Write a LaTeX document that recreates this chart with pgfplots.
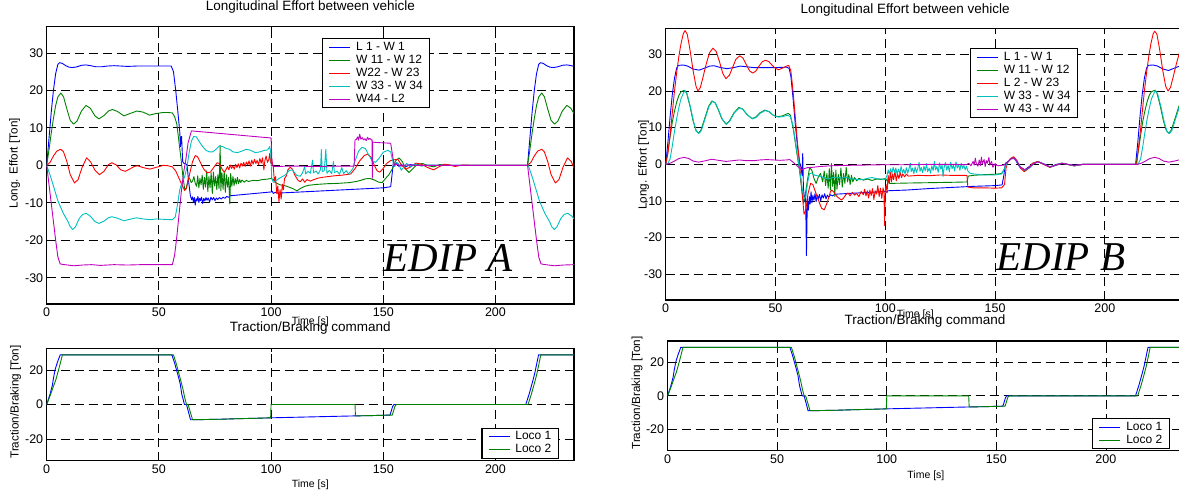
\documentclass[border=0pt]{standalone}
\usepackage{pgfplots}
\usepackage{pgfplotstable}
\pgfplotsset{compat=1.18}
\usepackage{fontspec}
\setmainfont{Liberation Sans}
\newfontfamily\edipfont{Liberation Serif}

\definecolor{mblue}{rgb}{0,0,1}
\definecolor{mgreen}{rgb}{0,0.5,0}
\definecolor{mred}{rgb}{1,0,0}
\definecolor{mcyan}{rgb}{0,0.75,0.75}
\definecolor{mmag}{rgb}{0.75,0,0.75}

% Traction / braking command of the two locomotives (time [s], effort [Ton])
\pgfplotstableread{
t v
0 0
1.5 6
2.5 11
3 15
3.7 20
4.8 24.5
6 28.7
55.8 28.7
57 24
58.5 17
59.5 12
60.2 6
61.4 0
62.3 0
64.1 -8.8
70 -8.7
78 -8.5
85 -8.2
92 -8.0
100 -7.7
110 -7.4
120 -7.1
130 -6.8
137 -6.6
145 -6.4
153 -6.1
153.5 -4
154.2 -1
154.8 0
213.5 0
215 6
216.5 13
217.5 18
219.2 28.7
235 28.7
}\locoone

\pgfplotstableread{
t v
0 0
1.5 5
3 10.5
4 14
5.5 21
7 28.7
56.5 28.7
58 22.5
59.5 15
60.7 9
61.5 4
62.3 0
63 0
65 -8.8
70 -8.7
78 -8.5
85 -8.2
92 -8.0
99.8 -7.7
100 0
137.4 0
137.6 -6.6
145 -6.4
154 -6.1
154.5 -4
155.2 -1
155.8 0
214.5 0
216 6
217.5 13
218.5 18
220.2 28.7
235 28.7
}\locotwo

% line-only legend samples, 21bp long
\pgfplotsset{
  legend image code/.code={\draw[#1, line width=1.1bp] (0bp,0bp) -- (21bp,0bp);},
  ser/.style={line width=0.9bp, no marks, line join=round, draw=#1, color=#1},
}
\pgfplotsset{
  mat/.style={
    scale only axis,
    anchor=north west,
    xmin=0, xmax=235,
    xtick={0,50,100,150,200},
    axis line style={line width=1.1bp},
    grid=major,
    major grid style={black, line width=0.8bp, dash pattern=on 9bp off 5bp},
    tick align=inside,
    major tick length=4bp,
    tick style={black, line width=0.8bp},
    tick label style={font=\fontsize{12.5bp}{14bp}\selectfont},
    xticklabel style={yshift=-0.5bp},
    /pgf/number format/assume math mode=true,
    xlabel style={font=\fontsize{10.5bp}{12bp}\selectfont, anchor=center},
    ylabel style={font=\fontsize{11.7bp}{13bp}\selectfont, anchor=center},
    title style={font=\fontsize{13.5bp}{15bp}\selectfont, anchor=center},
    legend cell align=left,
    legend style={anchor=north west, line width=1.1bp, fill=white,
      inner xsep=6bp, inner ysep=2bp, row sep=0pt,
      font=\fontsize{12bp}{13bp}\selectfont,
      nodes={inner sep=1bp, text height=8.6bp, text depth=2.4bp},
      /tikz/every odd column/.append style={column sep=4.3bp}},
  },
  cmdaxis/.style={
    ymin=-32.5, ymax=32.5, ytick={-20,0,20},
    extra y ticks={0}, extra y tick labels={},
    extra y tick style={major tick length=0pt,
      grid style={black!55, line width=1.4bp, dash pattern=on 9bp off 5bp}},
  },
}

\begin{document}
\begin{tikzpicture}

% ---------------- EDIP A : coupler forces ----------------
\begin{axis}[mat,
  at={(46.7bp,-26.7bp)}, width=527.3bp, height=277.3bp,
  ymin=-37, ymax=37, ytick={-30,-20,-10,0,10,20,30},
  title={Longitudinal Effort between vehicle},
  title style={at={(0.5,1.048)}},
  xlabel={Time [s]}, xlabel style={at={(0.5,-0.0645)}},
  ylabel={Long. Effort [Ton]}, ylabel style={at={(-0.061,0.508)}},
  legend style={at={(0.5225,0.958)}},
]
\addplot[ser=mblue] coordinates {
(0,0) (1,7) (2,14) (3,20) (4,24.5) (5,27) (5.8,27.4) (7,27.2) (8.5,26.6) (10,26.2)
(11.5,26.1) (13.5,26.3) (15.5,26.7) (17.5,26.8) (19.5,26.6) (22,26.3) (24.5,26.3)
(27,26.5) (30,26.6) (33,26.5) (36,26.4) (40,26.5) (45,26.5) (50,26.5) (55.5,26.5)
(56.5,25) (57.5,20) (58.5,14) (59.3,9) (59.6,5) (59.8,7.5) (60.1,7.7) (60.3,5)
(60.6,1) (61.2,0.5) (62,0.4) (62.6,0) (63.2,-4) (64,-8) (64.6,-9.2) (65,-8.4)
(65.4,-9.8) (65.8,-8.6) (66.2,-10.6) (66.6,-8.9) (67,-9.5) (67.4,-8.3) (67.8,-9.9)
(68.2,-8.8) (68.6,-9.4) (69,-8.5) (69.5,-10.2) (70,-8.8) (70.5,-9.5) (71,-8.6)
(71.5,-9.3) (72,-8.7) (72.6,-9.8) (73.2,-8.5) (73.8,-9.2) (74.4,-8.6) (75,-9.4)
(75.6,-8.7) (76.2,-9.1) (77,-8.6) (77.8,-9.0) (78.6,-8.5) (79.4,-8.8) (80.2,-8.3)
(81,-8.5) (82,-8.1) (100,-7.1) (100.5,-6.9) (101,-7.5) (102,-7.2) (103,-7.4)
(110,-7.2) (120,-6.9) (130,-6.6) (140,-6.3) (150,-6.0) (153.3,-5.7) (154,-2)
(154.5,0.8) (155,0.3) (156,0.6) (157,-0.3) (158,0.2) (160,-0.4) (162,0.2) (165,0)
(214.3,0) (215.3,7) (216.3,14) (217.3,20) (218.3,24.5) (219.3,27) (220.1,27.4)
(221.3,27.2) (222.8,26.6) (224.3,26.2) (225.8,26.1) (227.8,26.3) (229.8,26.7)
(231.8,26.8) (233.8,26.6) (235,26.4)
};
\addlegendentry{L 1 - W 1}
\addplot[ser=mgreen] coordinates {
(0,0) (1,4) (2,8.5) (3,12.5) (4,16) (5,18.3) (6.3,19.3) (7.5,18.3) (9,15) (10.5,12)
(12,11) (13.5,11.8) (15.5,14.5) (17.5,16) (19.5,15.2) (21.5,13.2) (23.3,12.4)
(25.5,13.3) (27.5,14.5) (29.3,14.9) (31.5,14.4) (34.4,13.2) (37,13.8) (40.2,14.5)
(43,14.2) (45.8,13.4) (48.5,13.8) (51.8,14.1) (54,14.1) (56,14) (57,13) (58,11)
(59,6) (60,1) (60.7,-3) (61.5,-6.3) (62,-6.5) (62.6,-5) (63.2,-3.2) (63.8,-3.6)
(64.4,-4.6) (65,-4.2) (65.6,-3) (66.2,-4.8) (66.8,-5.6) (67.3,-2.8) (67.8,-6)
(68.3,-3.5) (68.8,-5.2) (69.3,-2.6) (69.8,-6.4) (70.3,-3.2) (70.8,-5.8) (71.3,-1.5)
(71.8,-7) (72.3,-3) (72.8,-6) (73.3,-2) (73.8,-7.5) (74.3,-1.8) (74.8,-5.5) (75.3,-3)
(75.8,-6.5) (76.3,-2.5) (76.8,-6.2) (77.3,5.3) (77.6,-6.8) (78.1,-2) (78.6,-6.4)
(79.1,-1.5) (79.6,-7.2) (80.1,-2.5) (80.6,-5.8) (81.1,-3.2) (81.6,-10.3) (82,-2.2)
(82.5,-5.6) (83,-3) (83.5,-5.4) (84,-3.5) (84.5,-5) (85,-3.2) (85.5,-4.9) (86,-3.8)
(86.5,-4.6) (87,-3.9) (88,-4.5) (89,-4.0) (90,-4.3) (92,-4.0) (94,-4.1) (96,-3.8)
(98,-3.7) (100,-3.5) (101,-3.8) (102,-4.6) (104,-5.2) (106,-5.4) (108,-5.8)
(110,-6.3) (111.5,-6.8) (113,-6.2) (115,-5.6) (117,-5.3) (120,-5.1) (125,-4.9)
(130,-4.8) (135,-4.6) (138,-4.3) (140,-4.0) (142,-3.6) (144,-3.5) (146,-3.9)
(148,-4.5) (149.5,-4.6) (151,-3.5) (152.5,-2.5) (154,-1) (155.5,1.2) (157,2.0)
(158.5,1.0) (160,-1.0) (161.5,-1.9) (163,-1.0) (165,0.2) (167.5,0.5) (170,-0.1)
(172.5,-0.4) (175,0.2) (178,0.1) (182,-0.1) (186,0) (214.3,0) (215.3,4) (216.3,8.5)
(217.3,12.5) (218.3,16) (219.3,18.3) (220.6,19.3) (221.8,18.3) (223.3,15)
(224.8,12) (226.3,11) (227.8,11.8) (229.8,14.5) (231.8,16) (233.5,15.3) (235,13.8)
};
\addlegendentry{W 11 - W 12}
\addplot[ser=mred] coordinates {
(0,0) (1.5,0.8) (3,2.5) (4.5,3.8) (6.3,4.3) (7.5,3.6) (9,1) (10.5,-2.5) (12.4,-4.7)
(14,-3.8) (15.8,-0.5) (17.8,2.0) (19.5,1.0) (21.5,-1.3) (23.5,-2.5) (25.5,-1.6)
(27.5,0.2) (29,0.7) (31,0.1) (33,-1.2) (35,-1.6) (37,-1.0) (39,-0.3) (40.5,-0.1)
(43,-0.6) (46,-1.0) (49,-0.5) (52,0) (54,-0.1) (56,-0.4) (57.5,-1.5) (59,-3.5)
(60.5,-5.5) (61.5,-6.7) (62.3,-6.0) (63,-4.2) (64,-1.5) (65,1.0) (66.2,2.6)
(67.2,2.3) (68.5,0.8) (70,-1.0) (71.5,-2.0) (73,-1.8) (74.5,-0.5) (76,0.7) (77,0.5)
(78.3,-1.2) (79.3,-1.8) (80,-1.0) (80.6,-0.3) (81.2,-1.2) (81.8,0.1) (82.4,-0.8)
(83,-0.2) (83.6,-1.0) (84.2,0.3) (84.8,-0.6) (85.4,0.4) (86,-0.7) (86.6,0.6)
(87.2,-0.2) (87.8,0.8) (88.4,-0.3) (89,0.9) (89.6,0.1) (90.2,1.2) (90.8,-0.2)
(91.4,1.4) (92,0.3) (92.6,1.6) (93.2,0.5) (93.8,1.3) (94.4,0.2) (95,1.8) (95.6,0.6)
(96.2,2.0) (96.8,-1.2) (97.2,1.2) (97.8,2.5) (98.4,0.8) (99,1.6) (99.4,3.2)
(99.8,0.6) (100.2,2.0) (100.6,0.5) (101,-0.5) (101.5,-4.5) (102,-3) (102.5,-7.5)
(103,-5.5) (103.5,-9.7) (104,-6.5) (104.5,-9.0) (105,-5) (105.5,-6.5) (106,-3.5)
(106.8,-2.8) (107.5,-1.2) (108.5,-0.5) (109.5,-1.0) (110.5,-2.5) (112,-4.0)
(113,-4.4) (114,-3.6) (115,-4.5) (116,-3.8) (117.5,-4.2) (119,-3.8) (121,-3.4)
(124,-3.1) (128,-2.8) (132,-2.6) (135.5,-2.3) (137.5,-0.8) (139.5,1.2) (141.5,2.6)
(143,3.0) (144.5,2.2) (146,0) (147.3,-1.5) (148.5,-1.8) (150,-0.8) (151.5,0.5)
(153.3,1.3) (155,1.5) (156.5,1.6) (158,0.2) (160,-1.0) (162,-0.5) (164.5,0.6)
(167,0.3) (169.5,-0.5) (172.4,-1.2) (174.5,-0.5) (177,0.3) (179,0.2) (182,-0.3)
(185,0.1) (190,0) (214.3,0) (215.8,0.8) (217.3,2.5) (218.8,3.8) (220.6,4.3)
(221.8,3.6) (223.3,1) (224.8,-2.5) (226.7,-4.7) (228.3,-3.8) (230.1,-0.5)
(232.1,2.0) (233.8,1.0) (235,-0.8)
};
\addlegendentry{W22 - W 23}
\addplot[ser=mcyan] coordinates {
(0,0) (2,-3.5) (4,-7.5) (5,-9.5) (7.4,-12.8) (9.5,-15) (10.5,-16.4) (11.6,-17.1)
(12.8,-16.4) (14.5,-14.2) (16,-13.1) (17.6,-12.8) (19.5,-13.6) (21.5,-15)
(23.3,-15.5) (25.5,-14.9) (27.5,-14.0) (29,-13.7) (31.5,-14.1) (34.4,-14.8)
(37,-14.4) (40,-14.0) (43,-14.3) (46,-14.5) (49,-14.3) (52,-14.4) (56,-14.5)
(57.3,-13.8) (58.3,-10.5) (59.3,-6.5) (60.3,-4.5) (61.5,-3.0) (62.5,-0.5) (63.5,3.5)
(64.5,6.5) (65.5,7.7) (66.7,7.6) (68,6.3) (69.5,5.0) (71,4.0) (72.5,3.6) (74,3.6)
(75.5,4.3) (77,5.2) (78.5,5.0) (80,4.5) (81.5,4.3) (83,3.6) (85,3.4) (87,3.8)
(89,4.3) (91,4.0) (93,3.4) (95,3.6) (97,4.0) (98.5,4.1) (99.3,5.0) (99.8,3.9)
(100.3,-3.5) (101,-4.5) (102,-4.2) (103.5,-3.5) (105,-3) (106.5,-2.5) (108,-1.4)
(109.5,-1.2) (111.5,-2.7) (113,-2.9) (114,-2.0) (115,-0.3) (115.4,-2.3) (116.5,-1.6)
(117.5,-2.1) (118.5,1.4) (118.9,-2) (120,-1.5) (121,-2.3) (122,-1.2) (122.4,4.2)
(122.8,-1.7) (123.7,-1.4) (124.4,4.3) (124.9,-2.1) (126,-1.3) (127,-2.2) (127.8,1.0)
(128.2,-1.9) (129.5,-1.6) (130.5,-2.4) (131.5,-0.6) (132.3,-2.2) (133.5,-1.4)
(134.5,-2.3) (135.5,-1.6) (136.5,-0.8) (137.5,1.3) (139,3.8) (140.5,4.8) (142,4.5)
(143.5,2.8) (145,1.2) (146.5,0.8) (148,1.8) (150,3.5) (152,4.0) (153.3,3.6)
(154.2,1.2) (155,-0.3) (156,0.8) (157,0.2) (158,-1.3) (159,-0.6) (160.5,0.5)
(162,-0.4) (164,0.3) (167,-0.2) (170,0.1) (175,0) (214.6,0) (216.6,-3.5)
(218.6,-7.5) (219.6,-9.5) (222,-12.8) (224.1,-15) (225.1,-16.4) (226.2,-17.1)
(227.4,-16.4) (229.1,-14.2) (230.6,-13.1) (232.2,-12.8) (234.1,-13.6) (235,-14.3)
};
\addlegendentry{W 33 - W 34}
\addplot[ser=mmag] coordinates {
(0,0) (1,-5) (2,-10) (3,-15) (4,-20) (5,-24.5) (6,-26.3) (8,-26.5) (12,-26.8)
(16,-26.6) (20,-26.5) (24,-26.7) (30,-26.5) (36,-26.6) (42,-26.5) (48,-26.5)
(56,-26.5) (57,-24) (58,-19) (59,-13) (60,-7) (61,-2) (62,1.5) (63,6) (64.5,9.2)
(100,7.3) (100.4,0.2) (101,-0.3) (110,-0.2) (120,-0.3) (130,-0.2) (137,-0.2)
(137.4,6.8) (138,6.9) (138.6,7.6) (139,6.7) (139.5,8.3) (140,7.0) (140.6,7.4)
(141.2,6.8) (141.8,7.1) (142.4,6.6) (143,7.5) (143.5,6.9) (144,7.2) (144.7,6.8)
(145,6.8) (145.1,-3.5) (145.3,6.2) (147,6.1) (150,6.0) (153.3,5.9) (154.3,2)
(155,0) (156,0.3) (158,-0.2) (160,0.1) (165,0) (214.3,0) (215.3,-5) (216.3,-10)
(217.3,-15) (218.3,-20) (219.3,-24.5) (220.3,-26.3) (222.3,-26.5) (226.3,-26.8)
(230.3,-26.6) (235,-26.5)
};
\addlegendentry{W44 - L2}
\node[anchor=base west, inner sep=0pt, font=\edipfont\itshape\fontsize{41bp}{45bp}\selectfont]
  at (rel axis cs:0.639,0.1165) {EDIP A};
\end{axis}

% ---------------- EDIP A : command ----------------
\begin{axis}[mat, cmdaxis,
  at={(46.7bp,-348.3bp)}, width=527.3bp, height=112.4bp,
  title={Traction/Braking command},
  title style={at={(0.5,1.127)}},
  xlabel={Time [s]}, xlabel style={at={(0.5,-0.216)}},
  ylabel={Traction/Braking [Ton]}, ylabel style={at={(-0.0588,0.522)}},
  legend style={at={(0.8244,0.2936)}},
]
\addplot[ser=mblue] table[x=t, y=v] {\locoone};
\addlegendentry{Loco 1\hspace{14bp}}
\addplot[ser=mgreen] table[x=t, y=v] {\locotwo};
\addlegendentry{Loco 2\hspace{14bp}}
\end{axis}

% ---------------- EDIP B : coupler forces ----------------
\begin{axis}[mat,
  at={(665.7bp,-28.7bp)}, width=516bp, height=271.3bp,
  ymin=-37, ymax=37, ytick={-30,-20,-10,0,10,20,30},
  title={Longitudinal Effort between vehicle},
  title style={at={(0.464,1.0468)}},
  xlabel={Time [s]}, xlabel style={at={(0.4837,-0.0553)}},
  ylabel={Long. Effort [Ton]}, ylabel style={at={(-0.0429,0.4976)}},
  legend style={at={(0.5895,0.9278)}},
]
\addplot[ser=mblue] coordinates {
(0,0) (1,6) (2,13) (3,19) (4,23.5) (5,26.3) (5.8,27) (8,27.1) (10,26.8) (12.5,26.0)
(15.2,25.7) (17.5,26.2) (20,26.8) (22,26.9) (25,26.4) (28,26.1) (31,26.4) (34,26.8)
(37,26.6) (40,26.4) (45,26.4) (50,26.4) (55,26.5) (56.2,26.2) (57,24) (58,18)
(59,11) (60,5) (61,0.5) (61.7,-1) (62.1,-3) (62.4,3) (62.7,-6) (63.2,-10.2)
(63.7,-8) (64.1,-24.9) (64.5,-9.5) (65,-12.5) (65.4,-8.8) (65.8,-10.8) (66.2,-7.5)
(66.6,-10.5) (67,-8.5) (67.5,-9.8) (68,-8) (68.5,-10.2) (69,-8.4) (69.5,-9.5)
(70,-8.2) (70.6,-9.9) (71.2,-8.3) (71.8,-9.2) (72.4,-8.0) (73,-9.4) (73.6,-8.4)
(74.2,-9.0) (75,-8.3) (76,-8.6) (77,-8.2) (78.4,-8.1) (100,-7.4) (100.6,-7.6)
(101.2,-7.2) (110,-7.0) (120,-6.6) (130,-6.3) (140,-6.0) (150,-5.8) (153.2,-5.6)
(154,-3) (154.7,0.3) (156,0.8) (157.5,1.6) (159,1.5) (161,-0.5) (163.5,-1.5)
(166,-0.4) (169.5,0.7) (172,0.2) (175,-0.7) (178,0) (180.5,0.3) (183,0)
(186,-0.3) (190,0) (214,0) (215,6) (216,13) (217,19) (218,23.5) (219,26.3)
(219.8,27) (222,27.1) (224,26.8) (226.5,26.0) (229,25.6) (231.5,26.2) (234,26.8)
(235,26.9)
};
\addlegendentry{L 1 - W 1}
\addplot[ser=mgreen] coordinates {
(0,0) (1,3.5) (2,7.5) (3,11.5) (4,14.5) (5,17) (6,18.8) (7,19.8) (8.5,20.2) (9.5,19.5)
(11,16) (12.5,11.8) (13.8,9.2) (14.9,8.5) (16,9.3) (17.5,12) (19.5,15.8) (21.1,17.3)
(22.5,16.8) (24,14.8) (25.5,12.5) (27.4,11.0) (29,11.8) (31,14) (33.3,15.5)
(35,15.1) (37,13.6) (39.3,12.5) (41,12.9) (43,14.1) (45.2,14.8) (47,14.4) (49,13.4)
(51.1,13.0) (53,13.2) (55.8,13.9) (56.8,13.4) (58,10) (59,6) (60,2) (61,-2) (62,-7)
(62.8,-10.6) (63.5,-8.5) (64.5,-4.5) (65.5,-1.0) (66.5,-1.5) (67.5,-3.8) (68.5,-5.2)
(69.5,-3.5) (70.5,-2.5) (71.5,-4.8) (72.2,-1.8) (72.8,-5.8) (73.4,-2.5) (74,-6.5)
(74.5,-1.2) (75,-7.0) (75.5,0.2) (76,-6) (76.5,-2.2) (77,-8.8) (77.5,-1.5) (78,-6.8)
(78.6,-2.8) (79.2,-5.5) (79.8,-1.0) (80.4,-6.2) (81,-2.5) (81.6,-5.2) (82.2,-0.8)
(82.8,-4.8) (83.4,-2.8) (84,-5.5) (84.6,-3.0) (85.2,-4.8) (86,-3.6) (87,-4.5)
(88,-3.8) (90,-4.3) (92,-4.0) (94,-4.4) (96,-4.0) (98,-4.1) (100,-3.9) (101,-4.5)
(102,-5.2) (110,-5.1) (120,-5.0) (130,-4.9) (137.2,-4.8) (137.8,-3.2) (140,-3.0)
(145,-2.8) (150,-2.7) (153,-2.5) (154.5,-1) (155.5,0.5) (157,1.5) (158.5,1.9)
(160,0.8) (161.5,-0.8) (163.5,-1.7) (165.5,-1.0) (167.5,0.2) (169.5,0.8) (172,0.1)
(175,-0.8) (177.5,-0.3) (180.5,0.3) (183,0) (186,-0.4) (190,0) (214.2,0)
(215.2,3.5) (216.2,7.5) (217.2,11.5) (218.2,14.5) (219.2,17) (220.2,18.8)
(221.2,19.8) (222.7,20.2) (223.7,19.5) (225.2,16) (226.7,11.8) (228,9.2)
(229.1,8.5) (230.2,9.3) (231.7,12) (233.7,15.8) (235,17.2)
};
\addlegendentry{W 11 - W 12}
\addplot[ser=mred] coordinates {
(0,0) (1,3) (2,8) (3,14) (4,20) (5,25) (6,29.5) (7,33) (8,35.6) (8.8,36.5) (9.8,35.5)
(11,31.5) (12.5,25.5) (13.8,21.3) (14.7,20.0) (15.8,21) (17,23.8) (18.5,27.5)
(20,30.5) (21.5,31.7) (23,30.8) (24.5,28) (26,24.8) (27.4,23.4) (29,24.3) (30.5,26.5)
(32,28.7) (33.7,29.6) (35.2,29) (36.7,27.2) (38.2,25.5) (39.6,24.9) (41,25.4)
(42.5,26.8) (44,28) (45.5,28.4) (47,28) (48.5,27) (50,26.2) (51.4,25.8) (53,26.2)
(55,26.8) (56,27) (57,25.5) (58,20) (59,13) (60,6) (61,0) (62,-7) (63,-13.6)
(63.8,-12.5) (64.8,-8) (66,-5.2) (67,-5.5) (68.5,-8) (70,-10.5) (71,-12) (72.2,-12.4)
(73.5,-10.5) (75,-7.5) (75.6,-7) (76.5,-7.5) (78,-8.8) (80,-9.7) (81,-9.2) (82,-8.3)
(83,-7.8) (84,-8.6) (85,-7.6) (86,-8.4) (87,-7.9) (88,-8.8) (89,-7.4) (90,-8.3)
(90.6,-6.8) (91.2,-8.6) (91.8,-7.2) (92.4,-9.2) (93,-7.0) (93.6,-8.5) (94.2,-6.6)
(94.8,-9.6) (95.4,-7.2) (96,-8.1) (96.6,-5.8) (97.2,-8.8) (97.8,-6.5) (98.4,-9.3)
(99,-6.4) (99.4,-7.8) (99.7,-16.7) (100,-7.2) (100.4,-5.5) (100.8,-7.8) (101.3,-3.0)
(101.8,-5.2) (102.3,-2.2) (102.8,-4.8) (103.3,-2.6) (103.8,-4.2) (104.4,-1.9)
(105,-4.5) (105.6,-2.5) (106.2,-3.9) (106.8,-2.2) (107.4,-3.6) (108,-2.6)
(108.8,-3.4) (109.6,-2.7) (110.5,-3.2) (115,-3.0) (120,-3.1) (125,-2.9) (130,-3.0)
(137.2,-3.0) (137.6,-6.2) (140,-6.4) (145,-6.4) (150,-6.5) (153,-6.4) (154.3,-5.5)
(155,-1) (155.7,0.5) (157,1.6) (158.5,2.1) (160,1) (161.5,-1) (163.3,-2.0)
(165,-1.2) (167,0.3) (169.5,0.8) (172,0) (175,-0.8) (177.5,-0.2) (180.5,0.3)
(183,0) (186,-0.4) (190,0) (214.5,0) (215,3) (216,8) (217,14) (218,20) (219,25)
(220,29.5) (221,33) (222,35.6) (222.7,36.3) (223.7,35.5) (224.9,31.5) (226.4,25.5)
(227.7,21.3) (228.8,20.0) (229.9,21) (231.1,23.8) (232.6,27.5) (234,30.5)
(235,31.5)
};
\addlegendentry{L 2 - W 23}
\addplot[ser=mcyan] coordinates {
(0,0) (1,0.2) (2,1.5) (3,5) (4,9) (5,12.5) (6,15.5) (7,18) (8.7,20.2) (9.7,19.3)
(11.2,15.8) (12.7,11.6) (14,9.0) (15.1,8.4) (16.2,9.2) (17.7,12) (19.7,15.8)
(21.3,17.2) (22.7,16.7) (24.2,14.7) (25.7,12.4) (27.6,10.9) (29.2,11.8) (31.2,14)
(33.5,15.4) (35.2,15.0) (37.2,13.5) (39.5,12.4) (41.2,12.8) (43.2,14.0) (45.4,14.7)
(47.2,14.3) (49.2,13.3) (51.3,12.9) (53.2,13.0) (55.5,13.4) (56.8,13.0) (58,10.5)
(59,6.5) (60,2.5) (61,-1.5) (62,-6) (63,-9.5) (63.8,-8.8) (64.6,-5) (65.5,-2.5)
(66.5,-2.4) (68,-3.0) (70,-3.2) (72,-3.6) (74,-4.0) (76,-3.6) (78,-3.5) (80,-3.8)
(82,-3.5) (84,-3.9) (86,-4.0) (88,-4.2) (90,-4.1) (92,-3.8) (94,-3.6) (96,-3.9)
(98,-4.0) (100,-4.1) (100.8,-3.0) (101.3,-1.5) (101.8,-2.6) (102.4,-1.2) (103,-2.4)
(103.6,-0.8) (104.2,-2.2) (104.8,-1.0) (105.4,-2.7) (106,-1.3) (106.6,-2.5)
(107.2,-0.6) (107.8,-2.3) (108.4,-1.4) (109,-2.6) (109.6,-0.9) (110.2,-2.4)
(110.8,-1.2) (111.4,0.3) (111.8,-2.0) (112.4,-1.0) (113,-2.5) (113.6,-0.7)
(114.2,-2.2) (114.8,-1.1) (115.4,0.6) (115.8,-1.9) (116.4,-0.9) (117,-2.3)
(117.6,-0.5) (118.2,-1.8) (118.8,0.2) (119.3,-2.0) (120,-1.0) (120.6,-2.4)
(121.2,-0.4) (121.8,-1.7) (122.4,0.8) (122.9,-1.5) (123.5,-0.6) (124.1,-2.2)
(124.7,0.4) (125.3,-1.3) (125.9,-0.2) (126.3,-3.3) (126.8,-0.8) (127.4,0.5)
(128,-1.6) (128.6,-0.3) (129.2,-2.0) (129.8,0.6) (130.4,-1.2) (131,-0.2) (131.6,-1.8)
(132.2,0.7) (132.8,-1.0) (133.4,-0.1) (134,-1.6) (134.6,0.3) (135.2,-1.1)
(135.8,-0.3) (136.4,-1.5) (137,-0.5) (137.6,-1.8) (138.5,-2.4) (140,-2.6)
(145,-2.9) (150,-2.9) (153,-2.6) (154.5,-1) (155.5,0.4) (157,1.4) (158.5,1.8)
(160,0.8) (161.5,-0.8) (163.5,-1.6) (165.5,-1.0) (167.5,0.2) (169.5,0.7) (172,0.1)
(175,-0.7) (177.5,-0.3) (180.5,0.3) (183,0) (186,-0.4) (190,0) (214.3,0)
(215.3,0.2) (216.3,1.5) (217.3,5) (218.3,9) (219.3,12.5) (220.3,15.5) (221.3,18)
(223,20.2) (224,19.3) (225.5,15.8) (227,11.6) (228.3,9.0) (229.4,8.4) (230.5,9.2)
(232,12) (234,15.8) (235,16.8)
};
\addlegendentry{W 33 - W 34}
\addplot[ser=mmag] coordinates {
(0,0) (2,0.3) (4,0.9) (6,1.6) (8.5,1.9) (10.5,1.6) (12.5,0.9) (15,0.6) (17.5,0.9)
(21,1.4) (24,1.1) (27.5,0.8) (30.5,1.0) (33.5,1.2) (37,1.0) (40,1.0) (43,1.2)
(46,1.3) (49,1.2) (52,1.1) (55,1.2) (56.5,1.3) (58,0.6) (60,-0.5) (62,-1.5)
(63,-1.2) (64.5,-0.9) (67,-0.8) (70,-0.6) (75,-0.4) (80,-0.3) (90,-0.2) (100,-0.1)
(110,-0.1) (120,0) (130,0) (137,-0.1) (138,0.3) (139,-0.4) (140,0.8) (140.5,-0.2)
(141,1.7) (141.5,0.1) (142.2,-0.5) (142.8,1.2) (143.3,-0.3) (143.8,2.0) (144.2,0.2)
(145,1.3) (145.5,-0.6) (146,1.0) (146.5,0.3) (147.2,1.9) (147.6,-0.2) (148.4,0.8)
(149,-0.8) (150,0.2) (151,-0.4) (152.5,-0.3) (154,-0.2) (155.5,0.5) (157,1.4)
(158.5,1.8) (160,0.8) (161.5,-0.8) (163.5,-1.5) (165.5,-0.9) (167.5,0.2)
(169.5,0.7) (172,0.1) (175,-0.7) (177.5,-0.3) (180.5,0.3) (183,0) (186,-0.3)
(190,0) (215,0) (216.5,0.3) (218.5,0.9) (220.5,1.6) (222.7,1.9) (224.7,1.6)
(226.7,0.9) (229.2,0.6) (231.7,0.9) (235,1.4)
};
\addlegendentry{W 43 - W 44}
\node[anchor=base west, inner sep=0pt, font=\edipfont\itshape\fontsize{41bp}{45bp}\selectfont]
  at (rel axis cs:0.641,0.108) {EDIP B};
\end{axis}

% ---------------- EDIP B : command ----------------
\begin{axis}[mat, cmdaxis,
  at={(667.6bp,-341bp)}, width=515bp, height=109.7bp,
  title={Traction/Braking command},
  title style={at={(0.5,1.125)}},
  xlabel={Time [s]}, xlabel style={at={(0.5015,-0.228)}},
  ylabel={Traction/Braking [Ton]}, ylabel style={at={(-0.0594,0.526)}},
  legend style={at={(0.8247,0.295)}},
]
\addplot[ser=mblue] table[x=t, y=v] {\locoone};
\addlegendentry{Loco 1}
\addplot[ser=mgreen] table[x=t, y=v] {\locotwo};
\addlegendentry{Loco 2}
\end{axis}

\pgfresetboundingbox
\useasboundingbox (0bp,0bp) rectangle (1179bp,-495bp);
\end{tikzpicture}
\end{document}
